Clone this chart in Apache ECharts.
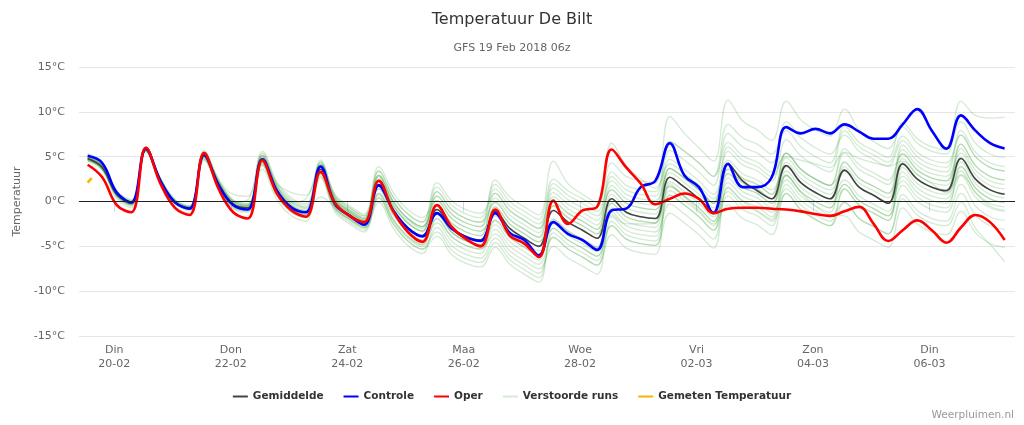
<!DOCTYPE html>
<html>
<head>
<meta charset="utf-8">
<title>Temperatuur De Bilt</title>
<script src="https://cdn.jsdelivr.net/npm/echarts@6/dist/echarts.min.js"></script>
<style>
html, body { margin: 0; padding: 0; background: #fff; }
#chart { width: 1024px; height: 425px; }
</style>
</head>
<body>
<div id="chart"></div>
<script>
// tijd in dagen vanaf 20-02 00:00, eerste punt 19-02 13:00, elke 6 uur
var startDag = -11 / 24;
var stapDag = 0.25;

// x-as labels
var tickPosities = [0, 2, 4, 6, 8, 10, 12, 14];
var dagNamen = ["Din", "Don", "Zat", "Maa", "Woe", "Vri", "Zon", "Din"];
var datums = ["20-02", "22-02", "24-02", "26-02", "28-02", "02-03", "04-03", "06-03"];

var gemiddelde = [4.8,3.8,0.8,-0.2, 5.8,2.3,-0.1,-0.8, 5.1,1.9,-0.3,-0.7, 4.6,1.2,-0.6,-1.2,
	3.6,-0.2,-1.5,-2.4, 1.9,-1.0,-2.9,-3.8, -0.9,-2.9,-3.9,-4.3, -1.1,-3.0,-4.1,-5.0,
	-1.0,-2.3,-3.2,-4.1, 0.3,-1.2,-1.7,-1.9, 2.7,1.6,0.3,-1.2, 4.2,2.3,1.2,0.3,
	4.0,2.1,1.0,0.3, 3.5,1.6,0.7,-0.2, 4.2,2.5,1.6,1.2, 4.8,2.5,1.3,0.8];
var controle = [5.1,4.3,1.0,-0.1, 5.9,2.3,-0.1,-0.8, 5.2,1.8,-0.4,-0.9, 4.7,1.2,-0.7,-1.2,
	3.9,-0.3,-1.6,-2.6, 1.8,-1.0,-3.0,-3.9, -1.3,-3.0,-4.0,-4.4, -1.3,-3.5,-4.3,-6.0,
	-2.3,-3.6,-4.3,-5.4, -1.0,-0.8,1.6,2.3, 6.5,2.9,1.6,-1.3, 4.2,1.6,1.6,2.7,
	8.3,7.6,8.1,7.6, 8.6,7.8,7.0,7.0, 8.6,10.3,7.9,5.9, 9.6,7.9,6.5,5.9];
var oper = [4.1,2.7,-0.4,-1.2, 6.0,2.0,-0.7,-1.5, 5.4,1.4,-1.2,-1.9, 4.6,0.9,-1.0,-1.7,
	3.3,-0.2,-1.6,-2.3, 2.3,-1.1,-3.4,-4.5, -0.4,-2.8,-4.2,-5.0, -0.9,-3.8,-4.7,-6.2,
	0.1,-2.5,-1.0,-0.6, 5.8,3.8,2.0,-0.3, 0.3,0.9,0.3,-1.3, -0.8,-0.7,-0.7,-0.8,
	-0.9,-1.1,-1.4,-1.6, -1.1,-0.6,-2.5,-4.4, -3.2,-2.1,-3.2,-4.6, -2.9,-1.5,-2.3,-4.3];

// 20 verstoorde runs
var verstoordeRuns = [
	[5.0,4.0,1.0,0.0, 5.9,2.4,0.0,-0.7, 5.4,2.2,0.0,-0.4, 5.1,1.7,-0.1,-0.7, 4.4,0.6,-0.7,-1.6, 3.4,0.5,-1.4,-2.3, 1.6,-0.4,-1.4,-1.8, 1.9,0.0,-1.1,-2.0, 2.5,1.2,0.3,-0.6, 4.3,2.8,2.3,2.1, 9.5,7.6,6.0,4.5, 11.3,9.0,8.0,6.8, 11.2,9.1,8.0,7.3, 10.3,8.0,6.7,5.9, 8.3,6.5,5.6,5.3, 11.2,9.6,9.3,9.4],
	[4.7,3.7,0.7,-0.3, 5.8,2.3,-0.1,-0.8, 4.9,1.7,-0.5,-0.9, 4.1,0.7,-1.1,-1.7, 2.6,-1.2,-2.5,-3.4, 0.4,-2.5,-4.4,-5.3, -2.9,-4.9,-5.9,-6.3, -4.1,-6.0,-7.1,-8.0, -4.0,-5.3,-6.2,-7.1, -2.7,-4.2,-4.7,-4.9, -1.3,-2.4,-3.7,-5.2, 1.5,0.0,-1.0,-2.0, 3.0,1.0,-0.5,-1.5, -1.6,-3.4,-4.3,-5.1, -0.7,-2.5,-3.4,-3.7, -1.1,-3.5,-4.7,-5.1],
	[5.1,4.1,1.1,0.1, 6.0,2.5,0.1,-0.6, 5.6,2.4,0.2,-0.2, 5.4,2.0,0.2,-0.4, 4.1,0.3,-1.0,-1.9, 2.9,0.0,-1.9,-2.8, 0.6,-1.4,-2.4,-2.8, -0.1,-2.0,-3.1,-4.0, 1.0,-0.3,-1.2,-2.1, 3.3,1.8,1.3,1.1, 6.7,5.6,4.3,2.8, 6.6,5.1,4.4,3.3, 5.0,4.6,4.2,3.8, 5.5,4.8,4.3,4.0, 6.8,5.0,4.1,3.8, 7.9,5.5,4.3,3.9],
	[4.6,3.6,0.6,-0.4, 5.7,2.2,-0.2,-0.9, 5.1,1.9,-0.3,-0.7, 4.3,0.9,-0.9,-1.5, 3.1,-0.7,-2.0,-2.9, -0.1,-3.0,-4.9,-5.8, -1.9,-3.9,-4.9,-5.3, -3.6,-5.5,-6.6,-7.5, -5.0,-6.3,-7.2,-8.1, -2.2,-3.7,-4.2,-4.4, 0.7,-0.4,-1.7,-3.2, 0.6,-0.9,-1.6,-2.7, 1.9,0.1,-1.0,-1.7, -0.1,-1.9,-2.8,-3.6, 0.8,-1.0,-1.9,-2.2, 0.9,-1.5,-2.7,-3.1],
	[4.8,3.8,0.8,-0.2, 6.1,2.6,0.2,-0.5, 5.7,2.5,0.8,0.6, 5.6,2.2,0.4,-0.2, 4.4,0.6,-0.7,-1.6, 2.4,-0.5,-2.4,-3.3, 1.1,-0.9,-1.9,-2.3, 1.4,-0.5,-1.6,-2.5, 0.5,-0.8,-1.7,-2.6, 1.3,-0.2,-0.7,-0.9, 3.7,2.6,1.3,-0.2, 5.6,4.1,3.4,2.3, 6.9,5.1,4.0,3.3, 7.9,6.1,5.2,4.4, 7.3,5.5,4.6,4.3, 7.4,5.0,3.8,3.4],
	[4.9,3.6,0.7,0.0, 5.6,2.1,-0.2,-0.6, 5.0,1.7,-0.4,-0.5, 4.8,1.4,-0.4,-1.0, 0.5,-0.6,-1.6,-2.2, 0.9,-2.0,-3.9,-4.8, -1.4,-3.4,-4.4,-4.8, -2.6,-4.5,-5.6,-6.5, -2.0,-3.3,-4.2,-5.1, -0.7,-2.2,-2.7,-2.9, 2.2,1.1,-0.2,-1.7, 2.1,0.6,-0.1,-1.2, 1.4,-0.4,-1.5,-2.2, 1.4,-0.4,-1.3,-2.1, 3.3,1.5,0.6,0.3, 3.4,1.0,-0.2,-0.6],
	[4.5,3.5,0.5,-0.5, 5.8,2.3,-0.1,-0.8, 5.3,2.1,-0.1,-0.5, 4.6,1.2,-0.6,-1.2, 3.9,0.1,-1.2,-2.1, 2.7,-0.2,-2.1,-3.0, 0.1,-1.9,-2.9,-3.3, -1.1,-3.0,-4.1,-5.0, -2.0,-3.3,-4.2,-5.1, 0.8,-0.7,-1.2,-1.4, 4.7,3.6,2.3,0.8, 4.6,3.1,2.4,1.3, 3.9,2.1,1.0,0.3, 2.4,0.6,-0.3,-1.1, 4.8,3.0,2.1,1.8, 5.9,3.5,2.3,1.9],
	[5.0,4.0,0.8,-0.2, 5.9,2.4,0.0,-0.7, 5.1,1.9,-0.3,-0.7, 4.0,0.6,-1.2,-1.8, 2.8,-1.0,-2.3,-3.2, 0.7,-2.2,-4.1,-5.0, -3.4,-5.4,-6.4,-6.8, -4.6,-6.5,-7.6,-8.5, -3.0,-4.3,-5.2,-6.1, -1.2,-2.7,-3.2,-3.4, -0.3,-1.4,-2.7,-4.2, 1.6,0.1,-0.6,-1.7, 2.9,1.1,0.0,-0.7, 1.9,0.1,-0.8,-1.6, 1.8,0.0,-0.9,-1.2, 1.9,-0.5,-1.7,-2.1],
	[4.8,3.8,0.8,-0.2, 6.0,2.5,0.1,-0.6, 5.5,2.3,0.1,-0.3, 4.9,2.0,1.0,0.7, 4.2,0.4,-0.9,-1.8, 2.9,0.0,-1.9,-2.8, -0.4,-2.4,-3.4,-3.8, 0.4,-1.5,-2.6,-3.5, 2.0,0.7,-0.2,-1.1, 2.3,0.8,0.3,0.1, 3.2,2.1,0.8,-0.7, 4.1,2.6,1.9,0.8, 5.4,3.6,2.5,1.8, 5.4,3.6,2.7,1.9, 5.3,3.5,2.6,2.3, 4.9,2.5,1.3,0.9],
	[4.7,3.7,0.7,-0.3, 5.6,2.1,-0.3,-1.0, 4.8,1.6,-0.6,-1.0, 4.4,1.0,-0.8,-1.4, 3.6,-0.2,-1.5,-2.4, 1.4,-1.5,-3.4,-4.3, -2.4,-4.4,-5.4,-5.8, -2.1,-4.0,-5.1,-6.0, -0.5,-1.8,-2.7,-3.6, 1.8,0.3,-0.2,-0.4, 5.7,4.6,3.3,1.8, 7.6,6.1,5.4,4.3, 8.9,7.1,6.0,5.3, 7.4,5.6,4.7,3.9, 4.5,3.0,2.0,1.0, 3.0,1.0,-0.5,-1.0],
	[5.3,4.4,1.2,0.2, 6.1,2.6,0.2,-0.5, 5.3,2.1,-0.1,0.2, 5.2,1.8,0.0,-0.6, 4.6,0.8,-0.5,-1.4, 3.9,1.0,-0.9,-1.8, 0.1,-1.9,-2.9,-3.3, -1.6,-3.5,-4.6,-5.5, -3.0,-4.3,-5.2,-6.1, -2.7,-4.2,-4.7,-4.9, 0.7,-0.4,-1.7,-3.2, 2.6,1.1,0.4,-0.7, 4.4,2.6,1.5,0.8, 4.4,2.6,1.7,0.9, 4.3,2.5,1.6,1.3, 4.4,2.0,0.8,0.4],
	[4.6,3.8,0.6,-0.4, 5.8,2.3,-0.1,-0.8, 4.7,1.5,-0.7,-1.1, 4.2,0.8,-1.0,-1.6, 3.3,-0.5,-1.8,-2.7, 1.9,-1.0,-2.9,-3.8, -0.4,-2.4,-3.4,-3.8, 0.9,-1.0,-2.1,-3.0, 1.5,0.2,-0.7,-1.6, 1.3,-0.2,-0.7,-0.9, 1.7,0.6,-0.7,-2.2, 1.1,-0.4,-1.1,-2.2, 0.9,-0.9,-2.0,-2.7, 1.4,-0.4,-1.3,-2.1, 4.3,2.5,1.6,1.3, 6.4,4.0,2.8,2.4],
	[4.9,3.9,0.9,-0.1, 6.0,2.5,0.1,-0.6, 5.2,2.0,-0.2,-0.6, 4.6,1.2,-0.6,-1.2, 3.8,0.0,-1.3,-2.2, 1.4,-1.5,-3.4,-4.3, -1.9,-3.9,-4.9,-5.3, -3.1,-5.0,-6.1,-7.0, -4.0,-5.3,-6.2,-7.1, -3.7,-5.2,-5.7,-5.9, 2.0,0.5,-1.0,-2.5, -0.4,-1.9,-2.6,-3.7, 0.9,-0.9,-2.0,-2.7, -0.1,-1.9,-2.8,-3.6, 0.3,-1.5,-2.4,-2.7, -0.1,-3.0,-4.8,-6.7],
	[4.8,3.8,0.8,-0.2, 5.7,2.2,-0.2,-0.9, 5.4,2.2,0.0,-0.4, 5.0,1.6,-0.2,-0.8, 4.1,0.3,-1.0,-1.9, 2.9,0.0,-1.9,-2.8, 1.1,-0.9,-1.9,-2.3, -0.1,-2.0,-3.1,-4.0, 0.0,-1.3,-2.2,-3.1, 2.8,1.3,0.8,0.6, 6.7,5.6,4.3,2.8, 8.6,7.1,6.4,5.3, 7.9,6.1,5.0,4.3, 8.4,6.6,5.7,4.9, 8.8,7.0,6.1,5.8, 8.9,6.5,5.3,4.9],
	[4.5,3.9,0.9,-0.1, 5.9,2.4,0.0,-0.7, 5.2,2.0,-0.2,-0.6, 4.4,1.0,-0.8,-1.4, 3.1,-0.7,-2.0,-2.9, 2.4,-0.5,-2.4,-3.3, -0.9,-2.9,-3.9,-4.3, -0.6,-2.5,-3.6,-4.5, -1.0,-2.3,-3.2,-4.1, -0.2,-1.7,-2.2,-2.4, 2.7,1.6,0.3,-1.2, 4.1,2.6,1.9,0.8, 4.9,3.1,2.0,1.3, 3.4,1.6,0.7,-0.1, 2.8,1.0,0.1,-0.2, 2.9,0.5,-0.7,-1.1],
	[5.0,4.0,1.0,0.0, 5.8,2.3,-0.1,-0.8, 5.0,1.8,-0.4,-0.8, 4.7,1.3,-0.5,-1.1, 3.9,0.1,-1.2,-2.1, 1.9,-1.0,-2.9,-3.8, -1.4,-3.4,-4.4,-4.8, -2.1,-4.0,-5.1,-6.0, 0.0,-1.3,-2.2,-3.1, 0.3,-1.2,-1.7,-1.9, 1.2,0.1,-1.2,-2.7, 3.6,2.1,1.4,0.3, 5.4,3.6,2.5,1.8, 5.9,4.1,3.2,2.4, 5.3,3.5,2.6,2.3, 6.4,4.0,2.8,2.4],
	[4.8,3.8,0.8,-0.2, 5.9,2.4,0.0,-0.7, 5.4,2.2,0.0,-0.4, 5.1,1.7,-0.1,0.3, 3.8,0.0,-1.3,-2.2, 3.4,0.5,-1.4,-2.3, 2.1,0.1,-0.9,-1.3, 0.9,-1.0,-2.1,-3.0, -0.5,-1.8,-2.7,-3.6, -0.2,-1.7,-2.2,-2.4, 3.7,2.6,1.3,-0.2, 6.1,4.6,3.9,2.8, 5.4,3.6,2.5,1.8, 3.4,1.6,0.7,-0.1, 2.3,0.5,-0.4,-0.7, 3.9,1.5,0.3,-0.1],
	[4.7,3.6,0.3,-0.7, 5.6,2.1,-0.6,-1.3, 4.6,1.4,-0.8,-1.2, 3.6,0.2,-1.6,-2.2, 3.0,-0.8,-2.1,-3.0, 0.4,-2.5,-4.4,-5.3, -3.9,-5.9,-6.9,-7.3, -5.1,-7.0,-8.1,-9.0, -3.5,-4.8,-5.7,-6.6, -1.5,-2.5,-2.5,-2.4, 3.7,2.6,1.3,-0.2, 3.1,1.6,0.9,-0.2, 2.4,0.6,-0.5,-1.2, 4.4,2.6,1.7,0.9, 6.3,4.5,3.6,3.3, 7.4,5.0,3.8,3.4],
	[4.9,3.9,0.9,-0.1, 5.8,2.3,-0.1,-0.8, 5.1,1.9,-0.3,-0.7, 4.8,1.4,-0.4,-1.0, 4.0,0.2,-1.1,-2.0, 2.4,-0.5,-2.4,-3.3, 0.6,-1.4,-2.4,-2.8, 2.4,0.5,-0.6,-1.5, 4.5,2.0,0.8,-0.1, 6.5,4.0,2.5,1.5, 4.2,3.1,1.8,0.3, 3.6,2.1,1.4,0.3, 2.9,1.1,0.0,-0.7, 3.9,2.1,1.2,0.4, 5.8,4.0,3.1,2.8, 5.4,3.0,1.8,1.4],
	[4.7,3.9,0.7,-0.3, 5.9,2.4,0.0,-0.7, 4.9,1.7,-0.5,-0.9, 4.3,0.9,-0.9,-1.5, 3.2,-0.6,-1.9,-2.8, 0.9,-2.0,-3.9,-4.8, -1.4,-3.4,-4.4,-4.8, -0.6,-2.5,-3.6,-4.5, -2.5,-3.8,-4.7,-5.6, -1.7,-3.2,-3.7,-3.9, 1.7,0.6,-0.7,-2.2, 3.1,1.6,0.9,-0.2, 3.4,1.6,0.5,-0.2, 1.9,0.1,-0.8,-1.6, 3.8,2.0,1.1,0.8, 3.9,1.5,0.3,-0.1]
];

// gemeten temperatuur op 19-02 (uur, graden)
var gemetenUren = [13, 14, 14.7];
var gemetenWaarden = [2.1, 2.4, 2.6];

var tijden = [];
for (var i = 0; i < gemiddelde.length; i++) {
	tijden.push(startDag + i * stapDag);
}
function koppel(waarden) {
	var uit = [];
	for (var j = 0; j < waarden.length; j++) {
		uit.push([tijden[j], waarden[j]]);
	}
	return uit;
}
var gemeten = [];
for (var k = 0; k < gemetenUren.length; k++) {
	gemeten.push([(gemetenUren[k] - 24) / 24, gemetenWaarden[k]]);
}

var font = "DejaVu Sans";
var groen = "rgba(40,150,40,0.2)";
var series = [];
for (var r = 0; r < verstoordeRuns.length; r++) {
	series.push({
		name : "Verstoorde runs",
		type : "line",
		smooth : 0.4,
		symbol : "none",
		silent : true,
		color : groen,
		lineStyle : { width : 1.3, color : groen },
		data : koppel(verstoordeRuns[r])
	});
}
series.push({
	name : "Gemiddelde",
	type : "line",
	smooth : 0.4,
	symbol : "none",
	color : "#444444",
	lineStyle : { width : 1.6, color : "#444444" },
	data : koppel(gemiddelde),
	markLine : {
		silent : true,
		symbol : "none",
		label : { show : false },
		lineStyle : { color : "#222", width : 1.2, type : "solid" },
		data : [ { yAxis : 0 } ]
	}
});
series.push({
	name : "Controle",
	type : "line",
	smooth : 0.4,
	symbol : "none",
	color : "#0000ff",
	lineStyle : { width : 2.6, color : "#0000ff" },
	data : koppel(controle)
});
series.push({
	name : "Oper",
	type : "line",
	smooth : 0.4,
	symbol : "none",
	color : "#ff0000",
	lineStyle : { width : 2.6, color : "#ff0000" },
	data : koppel(oper)
});
series.push({
	name : "Gemeten Temperatuur",
	type : "line",
	symbol : "none",
	color : "#f7b500",
	lineStyle : { width : 2.6, color : "#f7b500" },
	data : gemeten
});

var mychart = echarts.init(document.getElementById("chart"));
var option = {
	animation : false,
	textStyle : { fontFamily : font },
	title : [ {
		text : "Temperatuur De Bilt",
		left : "center",
		top : 7,
		textStyle : { fontFamily : font, fontSize : 16, fontWeight : "normal", color : "#333333" }
	}, {
		text : "GFS 19 Feb 2018 06z",
		left : "center",
		top : 38,
		textStyle : { fontFamily : font, fontSize : 11, fontWeight : "normal", color : "#666666" }
	} ],
	legend : {
		bottom : 18,
		left : "center",
		icon : "rect",
		itemWidth : 15,
		itemHeight : 2,
		itemGap : 20,
		data : [ "Gemiddelde", "Controle", "Oper", "Verstoorde runs", "Gemeten Temperatuur" ],
		textStyle : { fontFamily : font, fontSize : 10.5, fontWeight : "bold", color : "#333333" }
	},
	grid : { left : 79, right : 9, top : 67, bottom : 89 },
	xAxis : {
		type : "value",
		min : -0.607,
		max : 15.47,
		axisLine : { lineStyle : { color : "#ccd6eb" } },
		axisTick : { show : true, length : 10, customValues : tickPosities, lineStyle : { color : "#ccd6eb" } },
		splitLine : { show : false },
		axisLabel : {
			customValues : tickPosities,
			margin : 7,
			color : "#666666",
			fontSize : 11,
			lineHeight : 14,
			fontFamily : font,
			formatter : function(v) {
				var idx = tickPosities.indexOf(Math.round(v));
				if (idx < 0) return "";
				return dagNamen[idx] + "\n" + datums[idx];
			}
		}
	},
	yAxis : {
		type : "value",
		min : -15,
		max : 15,
		interval : 5,
		name : "Temperatuur",
		nameLocation : "middle",
		nameGap : 56,
		nameTextStyle : { color : "#666666", fontSize : 11, fontFamily : font },
		axisLine : { show : false },
		axisTick : { show : false },
		splitLine : { lineStyle : { color : "#e6e6e6" } },
		axisLabel : { formatter : "{value}°C", color : "#666666", fontSize : 11, margin : 14, fontFamily : font }
	},
	graphic : [ {
		type : "text",
		right : 10,
		bottom : 4,
		style : { text : "Weerpluimen.nl", fill : "#999999", font : "10.5px 'DejaVu Sans'" }
	} ],
	series : series
};
mychart.setOption(option);
</script>
</body>
</html>
